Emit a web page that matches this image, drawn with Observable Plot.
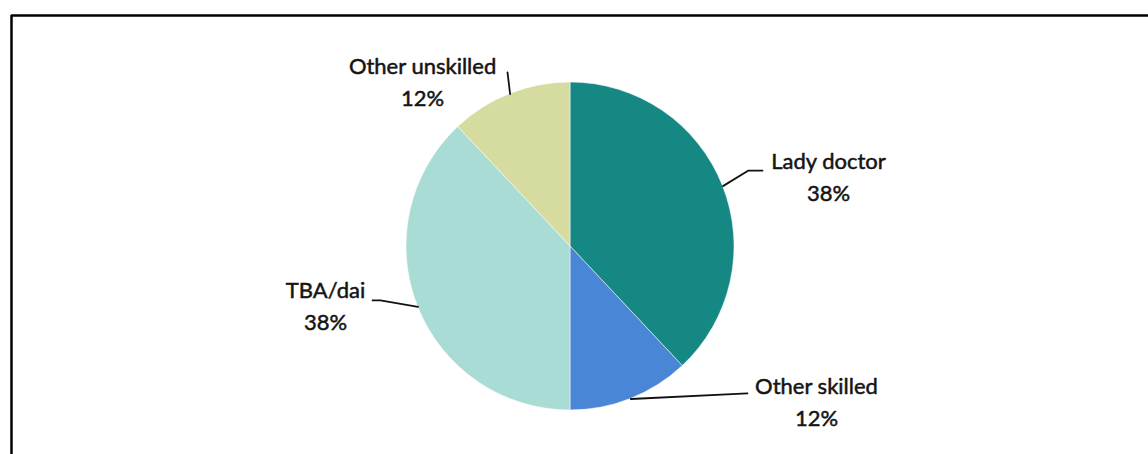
<!DOCTYPE html>
<html><head><meta charset="utf-8">
<script src="https://cdn.jsdelivr.net/npm/d3@7"></script>
<script src="https://cdn.jsdelivr.net/npm/@observablehq/plot@0.6"></script>
<style>html,body{margin:0;padding:0;background:#fff;} svg{display:block}</style>
</head><body><div id="chart"></div>
<script>
// ---- data ----
const categories = ["Lady doctor", "Other skilled", "TBA/dai", "Other unskilled"];
const shares = [38, 12, 38, 12];
const percentLabels = ["38%", "12%", "38%", "12%"];
const colors = ["#168883", "#4a86d6", "#a9dcd5", "#d6dca0"];

// ---- layout (pie-radius units, y up) ----
const W = 1148, H = 454, cx = 570, cy = 246, R = 164;
const frameLeft = 11, frameTop = 15;
const labelAnchor = [[1.573, 0.421], [1.5, -0.957], [-1.494, -0.366], [-0.902, 1.0]];
const leaderBends = [
  [[1.085, 0.463], [1.171, 0.463]],
  [[1.079, -0.896]],
  [[-1.159, -0.329], [-1.207, -0.329]],
  [[-0.384, 1.061]]
];

const total = d3.sum(shares);
let acc = 0;
const slices = categories.map((c, i) => {
  const a0 = acc / total * 2 * Math.PI; acc += shares[i];
  const a1 = acc / total * 2 * Math.PI;
  return {i, category: c, value: shares[i], label: percentLabels[i], color: colors[i], a0, a1, mid: (a0 + a1) / 2,
          lx: labelAnchor[i][0], ly: labelAnchor[i][1]};
});
const leaderPts = slices.flatMap(s => [
  {i: s.i, x: Math.sin(s.mid), y: Math.cos(s.mid)},
  ...leaderBends[s.i].map(([x, y]) => ({i: s.i, x, y}))
]);

function pieMark(index, scales) {
  const x = scales.x, y = scales.y;
  const r = x(1) - x(0);
  const arc = d3.arc().innerRadius(0).outerRadius(r);
  const g = d3.create("svg:g").attr("transform", `translate(${x(0)},${y(0)})`);
  g.selectAll("path").data(slices).join("path")
    .attr("d", d => arc({startAngle: d.a0, endAngle: d.a1}))
    .attr("fill", d => d.color)
    .attr("stroke", "#ffffff").attr("stroke-width", 0.5);
  return g.node();
}

const xDom = [(frameLeft - cx) / R, (W - cx) / R];
const yDom = [(cy - H) / R, (cy - frameTop) / R];

const textStyle = {fontSize: 22, fill: "#141414", stroke: "#141414", strokeWidth: 0.5, fontFamily: "Lato"};

const chart = Plot.plot({
  width: W, height: H,
  marginLeft: frameLeft, marginTop: frameTop, marginRight: 0, marginBottom: 0,
  style: {background: "#fff", fontFamily: "Lato, sans-serif"},
  x: {domain: xDom, range: [frameLeft, W], axis: null},
  y: {domain: yDom, range: [H, frameTop], axis: null},
  marks: [
    pieMark,
    Plot.line(leaderPts, {x: "x", y: "y", z: "i", stroke: "#111", strokeWidth: 1.8}),
    Plot.text(slices, {x: "lx", y: "ly", text: "category", dy: -16, ...textStyle}),
    Plot.text(slices, {x: "lx", y: "ly", text: "label", dy: 16, ...textStyle}),
    Plot.ruleY([yDom[1]], {stroke: "#000", strokeWidth: 2.5}),
    Plot.ruleX([xDom[0]], {stroke: "#000", strokeWidth: 2.5})
  ]
});
document.getElementById("chart").appendChild(chart);
</script>
</body></html>
